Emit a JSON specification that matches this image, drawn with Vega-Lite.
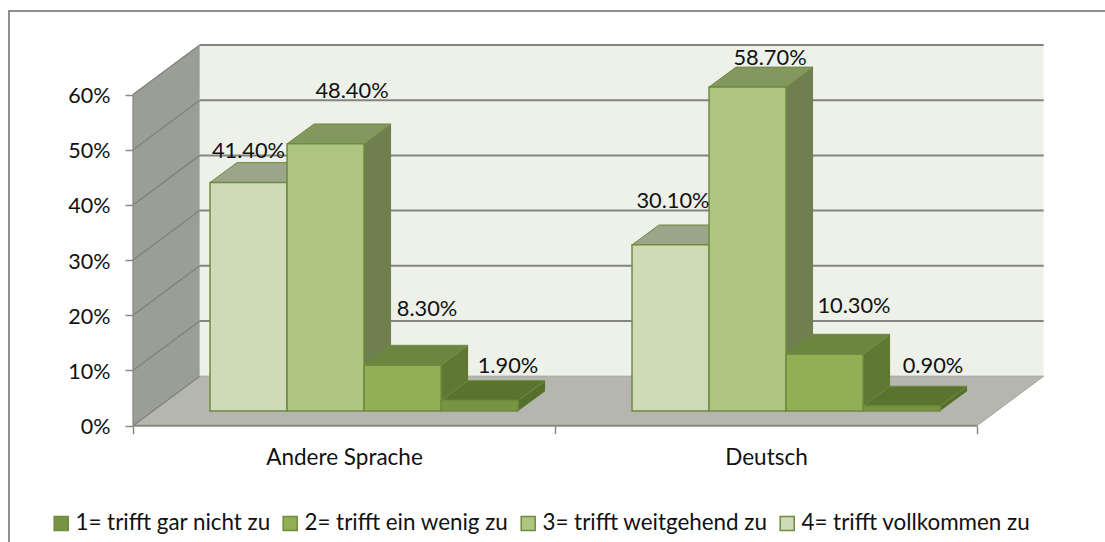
{
"$schema":"https://vega.github.io/schema/vega-lite/v6.json",
"width":1105,"height":542,"padding":0,"autosize":{"type":"none"},
"background":"white",
"config":{"view":{"stroke":null},"font":"Lato"},
"datasets":{
"bars":[
{"group":"Andere Sprache","series":"4= trifft vollkommen zu","value":41.4},
{"group":"Andere Sprache","series":"3= trifft weitgehend zu","value":48.4},
{"group":"Andere Sprache","series":"2= trifft ein wenig zu","value":8.3},
{"group":"Andere Sprache","series":"1= trifft gar nicht zu","value":1.9},
{"group":"Deutsch","series":"4= trifft vollkommen zu","value":30.1},
{"group":"Deutsch","series":"3= trifft weitgehend zu","value":58.7},
{"group":"Deutsch","series":"2= trifft ein wenig zu","value":10.3},
{"group":"Deutsch","series":"1= trifft gar nicht zu","value":0.9}
],
"ticks":[{"v":0},{"v":10},{"v":20},{"v":30},{"v":40},{"v":50},{"v":60}],
"depth":[{"t":0},{"t":1}],
"one":[{"n":1}]
},
"encoding":{
"x":{"type":"quantitative","scale":{"domain":[-0.31517,2.30332],"nice":false,"zero":false},"title":null},
"y":{"type":"quantitative","scale":{"domain":[-21.07,77.12],"nice":false,"zero":false},"title":null}
},
"layer":[
{"data":{"name":"one"},"mark":{"type":"rect","fill":"white","stroke":"#8e8e8e","strokeWidth":2},
 "encoding":{"x":{"datum":-0.2938},"x2":{"datum":3},"y":{"datum":75.13},"y2":{"datum":-30}}},
{"data":{"name":"one"},"mark":{"type":"rect","fill":"#EDF1EA"},
 "encoding":{"x":{"datum":0.158},"x2":{"datum":2.158},"y":{"datum":8.97},"y2":{"datum":68.97}}},
{"data":{"name":"depth"},"transform":[{"calculate":"datum.t*0.158","as":"xx"},{"calculate":"datum.t*8.97","as":"lo"},{"calculate":"60+datum.t*8.97","as":"hi"}],
 "mark":{"type":"area","fill":"#9A9E96","orient":"vertical"},
 "encoding":{"x":{"field":"xx","type":"quantitative"},"y":{"field":"lo","type":"quantitative"},"y2":{"field":"hi"}}},
{"data":{"name":"depth"},"transform":[{"calculate":"datum.t*8.97","as":"yy"},{"calculate":"datum.t*0.158","as":"xl"},{"calculate":"2+datum.t*0.158","as":"xr"}],
 "mark":{"type":"area","fill":"#B5B6AF","orient":"horizontal","stroke":"#A3A39E","strokeWidth":1},
 "encoding":{"y":{"field":"yy","type":"quantitative"},"x":{"field":"xl","type":"quantitative"},"x2":{"field":"xr"}}},
{"data":{"name":"ticks"},"transform":[{"filter":"datum.v>0"},{"calculate":"datum.v+8.97","as":"b"},{"calculate":"0.158","as":"xa"},{"calculate":"2.158","as":"xb"}],
 "mark":{"type":"rule","color":"#858580","strokeWidth":2},
 "encoding":{"x":{"field":"xa","type":"quantitative"},"x2":{"field":"xb"},"y":{"field":"b","type":"quantitative"}}},
{"data":{"name":"ticks"},"transform":[{"calculate":"datum.v+8.97","as":"b"},{"calculate":"0","as":"xa"},{"calculate":"0.158","as":"xb"}],
 "mark":{"type":"rule","color":"#7F827A","strokeWidth":1.3},
 "encoding":{"x":{"field":"xa","type":"quantitative"},"x2":{"field":"xb"},"y":{"field":"v","type":"quantitative"},"y2":{"field":"b"}}},
{"data":{"name":"one"},"mark":{"type":"rule","color":"#8A8A85","strokeWidth":2},
 "encoding":{"x":{"datum":0},"x2":{"datum":2},"y":{"datum":0}}},
{"data":{"name":"one"},"mark":{"type":"rule","color":"#8A8A85","strokeWidth":1.3},
 "encoding":{"x":{"datum":0},"y":{"datum":0},"y2":{"datum":60}}},
{"data":{"name":"bars"},"transform":[
 {"calculate":"datum.group==='Deutsch'?1:0","as":"g"},
 {"calculate":"4-parseInt(datum.series)","as":"s"},
 {"calculate":"[0,1]","as":"t"},{"flatten":["t"]},
 {"calculate":"datum.g+0.1825*(datum.s+2)+datum.t*0.064","as":"xx"},
 {"calculate":"2.66+datum.t*3.6","as":"lo"},
 {"calculate":"2.66+datum.value+datum.t*3.6","as":"hi"}],
 "mark":{"type":"area","orient":"vertical"},
 "encoding":{"x":{"field":"xx","type":"quantitative"},"y":{"field":"lo","type":"quantitative"},"y2":{"field":"hi"},
  "detail":[{"field":"group"},{"field":"series"}],
  "fill":{"field":"series","legend":null,"scale":{"domain":["1= trifft gar nicht zu","2= trifft ein wenig zu","3= trifft weitgehend zu","4= trifft vollkommen zu"],"range":["#55702B","#5F7833","#6F7F50","#7A8566"]}}}},
{"data":{"name":"bars"},"transform":[
 {"calculate":"datum.group==='Deutsch'?1:0","as":"g"},
 {"calculate":"4-parseInt(datum.series)","as":"s"},
 {"calculate":"[0,1]","as":"t"},{"flatten":["t"]},
 {"calculate":"2.66+datum.value+datum.t*3.6","as":"yy"},
 {"calculate":"datum.g+0.1825*(datum.s+1)+datum.t*0.064","as":"xl"},
 {"calculate":"datum.g+0.1825*(datum.s+2)+datum.t*0.064","as":"xr"}],
 "mark":{"type":"area","orient":"horizontal","stroke":"#6F8B3C","strokeWidth":1},
 "encoding":{"y":{"field":"yy","type":"quantitative"},"x":{"field":"xl","type":"quantitative"},"x2":{"field":"xr"},
  "detail":[{"field":"group"},{"field":"series"}],
  "fill":{"field":"series","legend":null,"scale":{"domain":["1= trifft gar nicht zu","2= trifft ein wenig zu","3= trifft weitgehend zu","4= trifft vollkommen zu"],"range":["#5A7430","#6C8640","#83985F","#9BA58A"]}}}},
{"data":{"name":"bars"},"transform":[
 {"calculate":"datum.group==='Deutsch'?1:0","as":"g"},
 {"calculate":"4-parseInt(datum.series)","as":"s"},
 {"calculate":"datum.g+0.1825*(datum.s+1)","as":"xl"},
 {"calculate":"datum.g+0.1825*(datum.s+2)","as":"xr"},
 {"calculate":"2.66","as":"lo"},
 {"calculate":"2.66+datum.value","as":"hi"}],
 "mark":{"type":"rect","stroke":"#6F8B3C","strokeWidth":1.5},
 "encoding":{"x":{"field":"xl","type":"quantitative","axis":{"orient":"bottom","offset":-116.3,"values":[0,0.5,1,1.5,2],"domain":false,"grid":false,"tickSize":8,"tickColor":"#8A8A85","tickWidth":1.5,
    "tickOpacity":{"condition":{"test":"datum.value%1===0","value":1},"value":0},
    "labelExpr":"datum.value===0.5?'Andere Sprache':datum.value===1.5?'Deutsch':''","labelFontSize":22.5,"labelColor":"#111","labelPadding":13,"labelFlush":false,"labelOverlap":false,"labelBound":false,"zindex":1}},
  "x2":{"field":"xr"},
  "y":{"field":"lo","type":"quantitative","axis":{"orient":"left","offset":-133,"values":[0,10,20,30,40,50,60],"domain":false,"grid":false,"tickSize":8,"tickColor":"#8A8A85","tickWidth":1.5,
    "labelExpr":"datum.value+'%'","labelFontSize":21.5,"labelColor":"#111","labelPadding":15,"labelOffset":2,"labelOverlap":false,"labelBound":false,"zindex":1}},
  "y2":{"field":"hi"},
  "fill":{"field":"series","title":null,"scale":{"domain":["1= trifft gar nicht zu","2= trifft ein wenig zu","3= trifft weitgehend zu","4= trifft vollkommen zu"],"range":["#789343","#92AF55","#AFC682","#CFDBB8"]},
   "legend":{"orient":"none","legendX":50,"legendY":512,"direction":"horizontal","columns":4,"symbolType":"square","symbolSize":196,"symbolStrokeColor":"#6F8B3C","symbolStrokeWidth":1.5,"labelFontSize":22.4,"labelColor":"#111","labelOffset":3,"columnPadding":8,"labelLimit":400,"gridAlign":"each"}}}},
{"data":{"name":"bars"},"transform":[
 {"calculate":"datum.group==='Deutsch'?1:0","as":"g"},
 {"calculate":"4-parseInt(datum.series)","as":"s"},
 {"calculate":"datum.g+0.1825*(datum.s+1)+[[0.0912,0.154,0.1492,0.1586],[0.0971,0.1445,0.161,0.1657]][datum.g][datum.s]","as":"lx"},
 {"calculate":"datum.value+[[8.64,12.5,13.2,9.19],[10.79,8.18,11.66,10.1]][datum.g][datum.s]","as":"ly"},
 {"calculate":"format(datum.value,'.2f')+'%'","as":"lab"}],
 "mark":{"type":"text","fontSize":21.8,"color":"#111","align":"center","baseline":"middle","dy":1.5},
 "encoding":{"x":{"field":"lx","type":"quantitative"},"y":{"field":"ly","type":"quantitative"},"text":{"field":"lab"}}}
],
"resolve":{"scale":{"fill":"independent"},"legend":{"fill":"independent"}}
}
